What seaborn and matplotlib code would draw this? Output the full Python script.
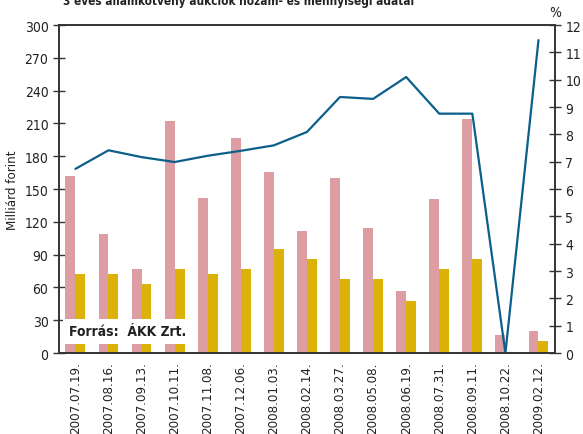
import numpy as np
import pandas as pd
import matplotlib
matplotlib.use("Agg")
import matplotlib.pyplot as plt
import seaborn as sns
from matplotlib import font_manager

# Auction dates
dates = ["2007.07.19.", "2007.08.16.", "2007.09.13.", "2007.10.11.", "2007.11.08.",
         "2007.12.06.", "2008.01.03.", "2008.02.14.", "2008.03.27.", "2008.05.08.",
         "2008.06.19.", "2008.07.31.", "2008.09.11.", "2008.10.22.", "2009.02.12."]

# Bid amount and accepted amount (billion HUF)
offered = [162, 109, 77, 212, 142, 197, 166, 112, 160, 114, 57, 141, 214, 17, 20]
accepted = [72, 72, 63, 77, 72, 77, 95, 86, 68, 68, 48, 77, 86, 0, 11]

# Average yield (%)
yields = [6.74, 7.42, 7.17, 6.99, 7.22, 7.40, 7.60, 8.09, 9.37, 9.30, 10.10, 8.76, 8.76, 0.0, 11.45]

sns.set_theme(style="white")
names = {f.name for f in font_manager.fontManager.ttflist}
if "Liberation Sans Narrow" in names:
    plt.rcParams["font.family"] = ["Liberation Sans Narrow", "DejaVu Sans"]
else:
    plt.rcParams["font.family"] = ["DejaVu Sans"]
    plt.rcParams["font.stretch"] = "condensed"

pink = "#de9ca3"
yellow = "#dcb208"
blue = "#0b5f8a"
dark = "#333333"

df = pd.DataFrame({
    "date": dates * 2,
    "value": offered + accepted,
    "kind": ["offered"] * len(dates) + ["accepted"] * len(dates),
})

fig = plt.figure(figsize=(5.83, 4.35), dpi=100)
ax = fig.add_axes([0.101, 0.186, 0.851, 0.754])

sns.barplot(data=df, x="date", y="value", hue="kind", palette=[pink, yellow],
            width=0.6, gap=0, saturation=1, linewidth=0, ax=ax, legend=False)

ax2 = ax.twinx()
sns.lineplot(x=np.arange(len(dates)), y=yields, color=blue, linewidth=1.6, ax=ax2)

ax.set_xlim(-0.5, len(dates) - 0.5)
ax.set_ylim(0, 300)
ax.set_yticks(np.arange(0, 301, 30))
ax2.set_ylim(0, 12)
ax2.set_yticks(np.arange(0, 13, 1))

ax.set_xticks(np.arange(len(dates)))
ax.set_xticklabels(dates, rotation=90, fontsize=9.5, color="#222222")
ax.set_xticks(np.arange(-0.5, len(dates)), minor=True)
ax.tick_params(axis="x", which="major", length=0, pad=6)
ax.tick_params(axis="x", which="minor", direction="inout", length=8, width=1, color=dark)
ax.tick_params(axis="y", direction="inout", length=8, width=1, color=dark,
               labelsize=10, labelcolor="#222222", left=True)
ax2.tick_params(axis="y", direction="inout", length=8, width=1, color=dark,
                labelsize=10, labelcolor="#222222", right=True)

ax.set_xlabel("")
ax.set_ylabel("Milliárd forint", fontsize=9.5, color="#222222", labelpad=4)
ax2.set_ylabel("")

for a in (ax, ax2):
    for s in a.spines.values():
        s.set_color(dark)
        s.set_linewidth(1.2)

ax2.text(1.0, 1.02, "%", transform=ax2.transAxes, ha="center", va="bottom",
         fontsize=10, color="#222222")

ax.text(0.02, 0.045, "Forrás:  ÁKK Zrt.", transform=ax.transAxes, fontsize=10,
        fontweight="bold", color="#222222", ha="left", va="bottom", zorder=10,
        bbox=dict(facecolor="white", edgecolor="none", pad=4))

fig.text(0.108, 0.997, "3 éves államkötvény aukciók hozam- és mennyiségi adatai",
         ha="left", va="center", fontsize=8.5, fontweight="bold", color="#222222")

fig.savefig("out.png", dpi=100)
